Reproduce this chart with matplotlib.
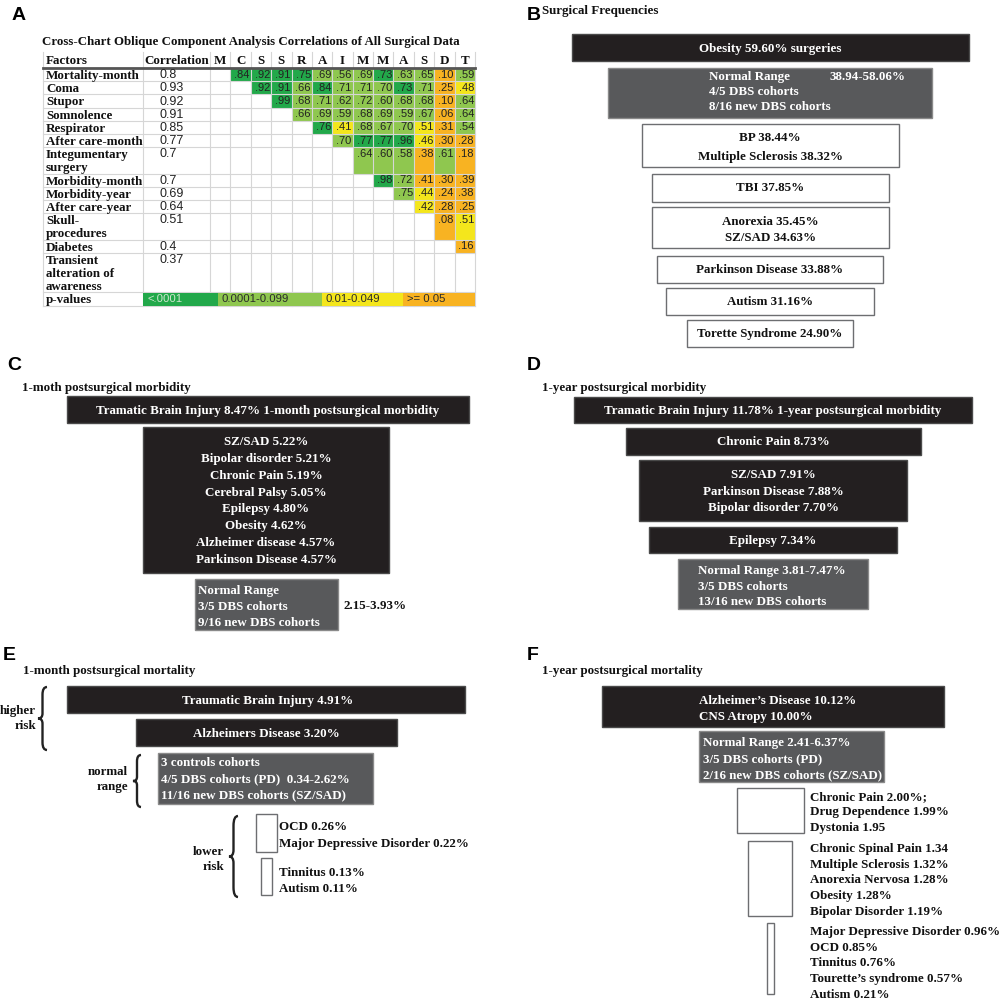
import matplotlib
matplotlib.use('Agg')
import matplotlib.pyplot as plt
from matplotlib.path import Path
from matplotlib.patches import PathPatch
from matplotlib import font_manager

# ---------------- DATA ----------------
factors = ["Mortality-month", "Coma", "Stupor", "Somnolence", "Respirator",
           "After care-month", "Integumentary\nsurgery", "Morbidity-month",
           "Morbidity-year", "After care-year", "Skull-\nprocedures", "Diabetes",
           "Transient\nalteration of\nawareness"]
correlations = ["0.8", "0.93", "0.92", "0.91", "0.85", "0.77", "0.7", "0.7",
                "0.69", "0.64", "0.51", "0.4", "0.37"]
col_letters = ["M", "C", "S", "S", "R", "A", "I", "M", "M", "A", "S", "D", "T"]
matrix_values = [
    [".84", ".92", ".91", ".75", ".69", ".56", ".69", ".73", ".63", ".65", ".10", ".59"],
    [".92", ".91", ".66", ".84", ".71", ".71", ".70", ".73", ".71", ".25", ".48"],
    [".99", ".68", ".71", ".62", ".72", ".60", ".68", ".68", ".10", ".64"],
    [".66", ".69", ".59", ".68", ".69", ".59", ".67", ".06", ".64"],
    [".76", ".41", ".68", ".67", ".70", ".51", ".31", ".54"],
    [".70", ".77", ".77", ".96", ".46", ".30", ".28"],
    [".64", ".60", ".58", ".38", ".61", ".18"],
    [".98", ".72", ".41", ".30", ".39"],
    [".75", ".44", ".24", ".38"],
    [".42", ".28", ".25"],
    [".08", ".51"],
    [".16"],
    [],
]
# p-value class per cell: d (<.0001), l (0.0001-0.099), y (0.01-0.049), o (>=0.05)
matrix_pclass = ["ddddllldllol", "ddldllldloy", "dlllllllol", "lllllllol",
                 "dylllyol", "ldddyoo", "lllolo", "dlooo", "lyoo", "yoo", "oy", "o", ""]
pvalue_labels = ["<.0001", "0.0001-0.099", "0.01-0.049", ">= 0.05"]
pvalue_classes = ["d", "l", "y", "o"]

B_title = "Surgical Frequencies"
B_boxes = [["Obesity 59.60% surgeries"],
           ["Normal Range", "4/5 DBS cohorts", "8/16 new DBS cohorts"],
           ["BP 38.44%", "Multiple Sclerosis 38.32%"],
           ["TBI 37.85%"],
           ["Anorexia 35.45%", "SZ/SAD 34.63%"],
           ["Parkinson Disease 33.88%"],
           ["Autism 31.16%"],
           ["Torette Syndrome 24.90%"]]
B_kinds = ["black", "gray", "white", "white", "white", "white", "white", "white"]
B_range = "38.94-58.06%"

C_title = "1-moth postsurgical morbidity"
C_boxes = [["Tramatic Brain Injury 8.47% 1-month postsurgical morbidity"],
           ["SZ/SAD 5.22%", "Bipolar disorder 5.21%", "Chronic Pain 5.19%",
            "Cerebral Palsy 5.05%", "Epilepsy 4.80%", "Obesity 4.62%",
            "Alzheimer disease 4.57%", "Parkinson Disease 4.57%"],
           ["Normal Range", "3/5 DBS cohorts", "9/16 new DBS cohorts"]]
C_kinds = ["black", "black", "gray"]
C_range = "2.15-3.93%"

D_title = "1-year postsurgical morbidity"
D_boxes = [["Tramatic Brain Injury 11.78% 1-year postsurgical morbidity"],
           ["Chronic Pain 8.73%"],
           ["SZ/SAD 7.91%", "Parkinson Disease 7.88%", "Bipolar disorder 7.70%"],
           ["Epilepsy 7.34%"],
           ["Normal Range 3.81-7.47%", "3/5 DBS cohorts", "13/16 new DBS cohorts"]]
D_kinds = ["black", "black", "black", "black", "gray"]

E_title = "1-month postsurgical mortality"
E_boxes = [["Traumatic Brain Injury 4.91%"],
           ["Alzheimers Disease 3.20%"],
           ["3 controls cohorts", "4/5 DBS cohorts (PD)  0.34-2.62%",
            "11/16 new DBS cohorts (SZ/SAD)"],
           ["OCD 0.26%", "Major Depressive Disorder 0.22%"],
           ["Tinnitus 0.13%", "Autism 0.11%"]]
E_kinds = ["black", "black", "gray", "white", "white"]
E_groups = [["higher", "risk"], ["normal", "range"], ["lower", "risk"]]

F_title = "1-year postsurgical mortality"
F_boxes = [["Alzheimer\u2019s Disease 10.12%", "CNS Atropy 10.00%"],
           ["Normal Range 2.41-6.37%", "3/5 DBS cohorts (PD)", "2/16 new DBS cohorts (SZ/SAD)"],
           ["Chronic Pain 2.00%;", "Drug Dependence 1.99%", "Dystonia 1.95"],
           ["Chronic Spinal Pain 1.34", "Multiple Sclerosis 1.32%", "Anorexia Nervosa 1.28%",
            "Obesity 1.28%", "Bipolar Disorder 1.19%"],
           ["Major Depressive Disorder 0.96%", "OCD 0.85%", "Tinnitus 0.76%",
            "Tourette\u2019s syndrome 0.57%", "Autism 0.21%"]]
F_kinds = ["black", "gray", "white", "white", "white"]

panel_letters = ["A", "B", "C", "D", "E", "F"]

# ---------------- STYLE / LAYOUT ----------------
names = {f.name for f in font_manager.fontManager.ttflist}
SERIF = ['Liberation Serif', 'DejaVu Serif']
SANS = ['Liberation Sans', 'DejaVu Sans']
HAS_NARROW = 'Liberation Sans Narrow' in names
NARROW = ['Liberation Sans Narrow'] if HAS_NARROW else ['Liberation Sans']
NUM_FS = 9.2 if HAS_NARROW else 8.0
CORR_FS = 10.2 if HAS_NARROW else 9.0
LEG_FS = 9.4 if HAS_NARROW else 8.2
FS = 9.4

FILL = {"black": "#231f20", "gray": "#58595b", "white": "#ffffff"}
EDGE = {"black": "#4a4a4a", "gray": "#8a8a8a", "white": "#6d6e71"}
TXT = {"black": "white", "gray": "white", "white": "#111111"}
PCOL = {"d": "#22a84a", "l": "#8fc74f", "y": "#f4e61c", "o": "#f8b322"}
PTXT = {"d": "#cfe6cf", "l": "#2a2a2a", "y": "#2a2a2a", "o": "#2a2a2a"}

W, H = 999, 1001
fig = plt.figure(figsize=(W / 100, H / 100), dpi=100)
ax = fig.add_axes([0, 0, 1, 1])
ax.set_xlim(0, W)
ax.set_ylim(H, 0)
ax.axis('off')


def put(x, y, s, ha='left', color='#111111', fs=FS, fam=None, weight='bold'):
    ax.text(x, y + fs * 100 / 72 * 0.33, s, ha=ha, va='baseline', color=color,
            fontsize=fs, family=fam or SERIF, fontweight=weight, zorder=5)


def box(l, t, r, b, kind):
    ax.bar(l, b - t, width=r - l, bottom=t, align='edge', color=FILL[kind],
           edgecolor=EDGE[kind], linewidth=1.0, zorder=2)


def funnel(boxes, kinds, layout):
    for lines, kind, (l, t, r, b, tx, ha, y0, dy) in zip(boxes, kinds, layout):
        box(l, t, r, b, kind)
        if tx is None:
            tx = (l + r) / 2
        col = TXT[kind] if tx <= r else '#111111'
        for k, s in enumerate(lines):
            put(tx, y0 + k * dy, s, ha=ha, color=col)


def brace(x_tip, x_end, y0, y1):
    xm = (x_tip + x_end) / 2
    ym = (y0 + y1) / 2
    h = y1 - y0
    verts = [(x_end, y0), (xm, y0), (xm, y0 + 0.12 * h),
             (xm, ym - 0.08 * h), (xm, ym), (x_tip, ym),
             (xm, ym), (xm, ym + 0.08 * h),
             (xm, y1 - 0.12 * h), (xm, y1), (x_end, y1)]
    codes = [Path.MOVETO, Path.CURVE3, Path.CURVE3, Path.LINETO, Path.CURVE3, Path.CURVE3,
             Path.CURVE3, Path.CURVE3, Path.LINETO, Path.CURVE3, Path.CURVE3]
    ax.add_patch(PathPatch(Path(verts, codes), fill=False, lw=1.7, color='#222222', zorder=3))


# panel letters
letter_pos = [(12, 16), (527, 16), (7, 365), (527, 365), (3, 655), (527, 656)]
for s, (x, y) in zip(panel_letters, letter_pos):
    ax.text(x, y, s, ha='left', va='center', fontsize=14, family=SANS, fontweight='bold',
            color='black')

# ---------------- PANEL A: table ----------------
put(42, 40.5, "Cross-Chart Oblique Component Analysis Correlations of All Surgical Data",
    fs=9.27)
tx0, tfac, tcorr, tx1 = 43, 143, 210, 475
cw = (tx1 - tcorr) / len(col_letters)
lh = 13.2
ttop, hbot = 52, 68
row_lines = [f.count("\n") + 1 for f in factors]
row_tops = [hbot]
for n in row_lines:
    row_tops.append(row_tops[-1] + n * lh)
p_top = row_tops[-1]
p_bot = p_top + lh

# cells
for i, (vals, pcs) in enumerate(zip(matrix_values, matrix_pclass)):
    t = row_tops[i]
    hgt = row_lines[i] * lh
    start = len(col_letters) - len(vals)
    for k, (v, pc) in enumerate(zip(vals, pcs)):
        l = tcorr + (start + k) * cw
        ax.bar(l, hgt, width=cw, bottom=t, align='edge', color=PCOL[pc], linewidth=0, zorder=1)
        ax.text(l + cw - 1.0, t + lh / 2 + 3.0, v, ha='right', va='baseline', fontsize=NUM_FS,
                family=NARROW, color='#222222', zorder=4)

# grid
gc = '#d6d6d6'
vx = [tx0, tfac, tcorr] + [tcorr + j * cw for j in range(1, len(col_letters))] + [tx1]
for x in vx:
    ax.plot([x, x], [ttop, p_bot], color=gc, lw=0.8, zorder=3)
for y in row_tops[1:] + [p_bot]:
    ax.plot([tx0, tx1], [y, y], color=gc, lw=0.8, zorder=3)
ax.plot([tx0, tx1], [hbot, hbot], color='#555555', lw=2.0, zorder=3)

# p-value legend cells (on top of the grid)
legend_edges = [tfac, 218, 322, 403, tx1]
for k, (lab, pc) in enumerate(zip(pvalue_labels, pvalue_classes)):
    l, r = legend_edges[k], legend_edges[k + 1]
    ax.bar(l, lh - 0.6, width=r - l, bottom=p_top + 0.6, align='edge', color=PCOL[pc],
           linewidth=0, zorder=3.5)
    ax.text(l + 4, p_top + lh / 2 + 3.2, lab, ha='left', va='baseline', fontsize=LEG_FS,
            family=NARROW, color=PTXT[pc], zorder=4)

# header
put(46, 59.5, "Factors")
put((tfac + tcorr) / 2, 59.5, "Correlation", ha='center')
for j, c in enumerate(col_letters):
    put(tcorr + (j + 0.5) * cw, 59.5, c, ha='center')
# rows
for i, (f, c) in enumerate(zip(factors, correlations)):
    for k, line in enumerate(f.split("\n")):
        put(46, row_tops[i] + lh / 2 + k * lh, line)
    ax.text(160, row_tops[i] + lh / 2 + 3.6, c, ha='left', va='baseline', fontsize=CORR_FS,
            family=NARROW, color='#222222', zorder=4)
put(46, p_top + lh / 2, "p-values")

# ---------------- PANEL B ----------------
put(542, 10, B_title)
B_layout = [(572, 34, 969, 61, None, 'center', 47.5, 0),
            (608, 68, 932, 118, 709, 'left', 75.5, 15),
            (642, 124, 899, 167, 770, 'center', 136.5, 19),
            (652, 174, 889, 202, None, 'center', 187, 0),
            (652, 207, 889, 248, None, 'center', 220.5, 16),
            (657, 256, 883, 283, None, 'center', 269, 0),
            (666, 288, 874, 315, None, 'center', 301, 0),
            (687, 320, 853, 347, None, 'center', 333, 0)]
funnel(B_boxes, B_kinds, B_layout)
put(829, 75.5, B_range, color='white')

# ---------------- PANEL C ----------------
put(22, 387, C_title)
C_layout = [(67, 396, 469, 423, 268, 'center', 409.5, 0),
            (143, 427, 389, 573, 266, 'center', 440.5, 16.9),
            (195, 579, 338, 630, 198, 'left', 590, 16)]
funnel(C_boxes, C_kinds, C_layout)
put(343, 605, C_range)

# ---------------- PANEL D ----------------
put(542, 387, D_title)
D_layout = [(574, 397, 972, 423, 773, 'center', 409.5, 0),
            (626, 428, 921, 455, 773, 'center', 441, 0),
            (639, 460, 907, 521, 773, 'center', 474, 16.5),
            (649, 527, 897, 553, 773, 'center', 539.5, 0),
            (678, 559, 868, 609, 698, 'left', 570, 15.5)]
funnel(D_boxes, D_kinds, D_layout)

# ---------------- PANEL E ----------------
put(23, 670, E_title)
E_layout = [(67, 686, 465, 713, 268, 'center', 699.5, 0),
            (136, 719, 397, 746, 266, 'center', 732.5, 0),
            (158, 753, 373, 804, 161, 'left', 761.5, 16),
            (256, 814, 277, 852, 279, 'left', 825.5, 17),
            (261, 858, 272, 895, 279, 'left', 871.5, 16)]
funnel(E_boxes, E_kinds, E_layout)
brace_layout = [(38, 47, 687, 750, 36, 710), (133, 141, 755, 807, 128, 771),
                (229, 238, 816, 897, 224, 851)]
for (xt, xe, y0, y1, lx, ly), words in zip(brace_layout, E_groups):
    brace(xt, xe, y0, y1)
    for k, wd in enumerate(words):
        put(lx, ly + k * 15, wd, ha='right')

# ---------------- PANEL F ----------------
put(542, 670, F_title)
F_layout = [(602, 686, 944, 727, 699, 'left', 699.5, 16),
            (699, 731, 884, 782, 703, 'left', 741.5, 16),
            (737, 788, 804, 833, 810, 'left', 795.5, 15.5),
            (748, 841, 792, 916, 810, 'left', 847.5, 15.75),
            (767, 923, 774, 994, 810, 'left', 930.5, 15.75)]
funnel(F_boxes, F_kinds, F_layout)

fig.savefig("out.png", dpi=100, facecolor='white')
